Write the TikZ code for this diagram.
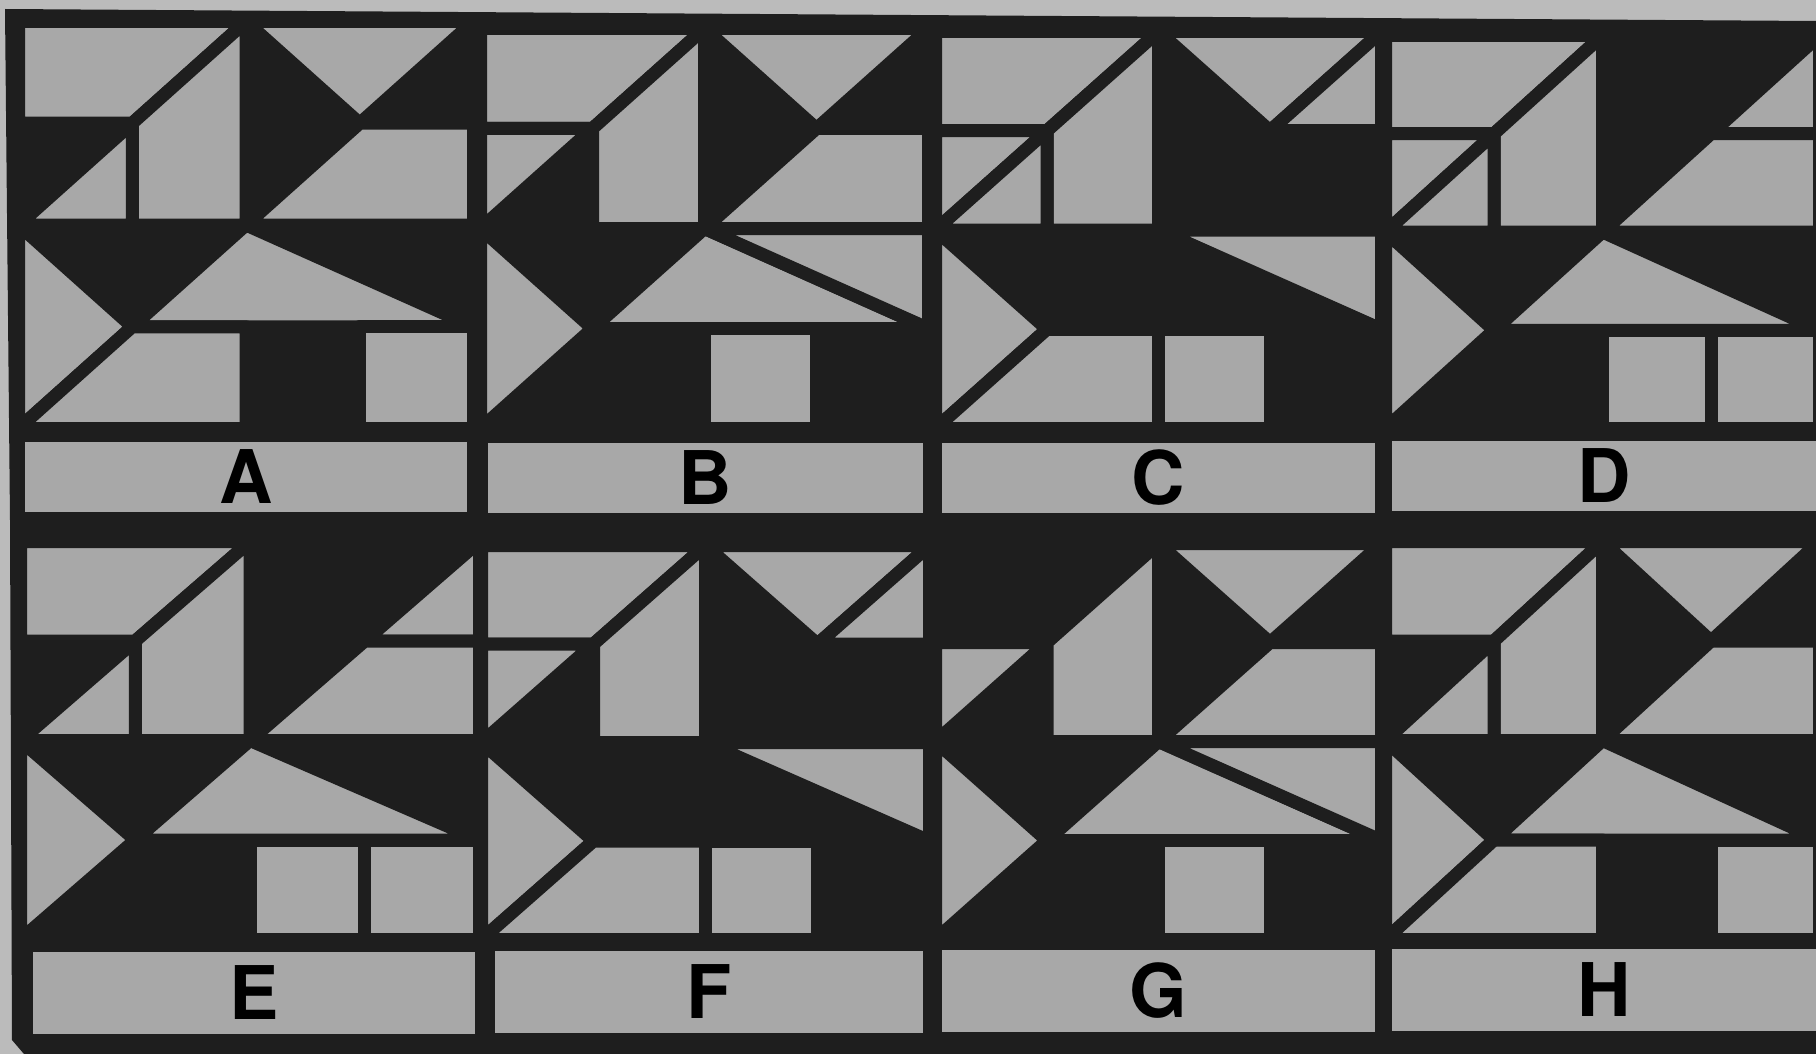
\documentclass[tikz,border=0pt]{standalone}
\usepackage{fontspec}
\setsansfont{TeX Gyre Heros}
\usepackage{xcolor}
\usepackage{tikz}
\definecolor{paper}{HTML}{BBBBBB}
\definecolor{tile}{HTML}{A8A8A8}
\definecolor{ink}{HTML}{1E1E1E}

\begin{document}
\begin{tikzpicture}[
    x=0.5pt, y=-0.5pt,
    piece/.style={fill=tile, draw=ink, line width=6.5pt, line join=round},
    labbox/.style={fill=tile, inner sep=0pt, minimum width=#1,
                   font=\sffamily\bfseries\fontsize{37}{37}\selectfont},
    toplab/.style={labbox=#1, minimum height=35pt},
    botlab/.style={labbox=#1, minimum height=41pt},
    pc-cap/.style={insert path={(0,0) -- (2,0) -- (1,1) -- (0,1) -- cycle}},
    pc-wedge/.style={insert path={(2,0) -- (1,1) -- (1,2) -- (2,2) -- cycle}},
    pc-nookhi/.style={insert path={(0,1) -- (1,1) -- (0,2) -- cycle}},
    pc-nooklo/.style={insert path={(1,1) -- (1,2) -- (0,2) -- cycle}},
    pc-hat/.style={insert path={(2,0) -- (4,0) -- (3,1) -- cycle}},
    pc-peak/.style={insert path={(4,0) -- (4,1) -- (3,1) -- cycle}},
    pc-ramp/.style={insert path={(3,1) -- (4,1) -- (4,2) -- (2,2) -- cycle}},
    pc-dart/.style={insert path={(0,2) -- (1,3) -- (0,4) -- cycle}},
    pc-roof/.style={insert path={(1,3) -- (2,2) -- (4,3) -- cycle}},
    pc-flag/.style={insert path={(2,2) -- (4,2) -- (4,3) -- cycle}},
    pc-sole/.style={insert path={(1,3) -- (2,3) -- (2,4) -- (0,4) -- cycle}},
    pc-boxl/.style={insert path={(2,3) rectangle (3,4)}},
    pc-boxr/.style={insert path={(3,3) rectangle (4,4)}}
  ]
  \useasboundingbox (0,0) rectangle (1816,1054);
  \fill[paper] (0,0) rectangle (1816,1054);
  \fill[ink] (5,9) -- (1816,21) -- (1816,1054) -- (24,1054) -- (12,1040) -- (10,520) -- cycle;

  \begin{scope}[shift={(9.25pt,-10.75pt)}, x=56.875pt, y=-50.875pt]
    \foreach \pc in {pc-cap,pc-wedge,pc-nooklo,pc-hat,pc-ramp,pc-dart,pc-roof,pc-sole,pc-boxr}
      \path[piece, \pc];
  \end{scope}
  \begin{scope}[shift={(240.25pt,-14.25pt)}, x=56pt, y=-50pt]
    \foreach \pc in {pc-cap,pc-wedge,pc-nookhi,pc-hat,pc-ramp,pc-dart,pc-roof,pc-flag,pc-boxl}
      \path[piece, \pc];
  \end{scope}
  \begin{scope}[shift={(467.75pt,-15.75pt)}, x=55.75pt, y=-49.625pt]
    \foreach \pc in {pc-cap,pc-wedge,pc-nookhi,pc-nooklo,pc-hat,pc-peak,pc-dart,pc-flag,pc-sole,pc-boxl}
      \path[piece, \pc];
  \end{scope}
  \begin{scope}[shift={(692.75pt,-17.75pt)}, x=54.25pt, y=-49.125pt]
    \foreach \pc in {pc-cap,pc-wedge,pc-nookhi,pc-nooklo,pc-peak,pc-ramp,pc-dart,pc-roof,pc-boxl,pc-boxr}
      \path[piece, \pc];
  \end{scope}
  \begin{scope}[shift={(10.25pt,-270.75pt)}, x=57.375pt, y=-49.75pt]
    \foreach \pc in {pc-cap,pc-wedge,pc-nooklo,pc-peak,pc-ramp,pc-dart,pc-roof,pc-boxl,pc-boxr}
      \path[piece, \pc];
  \end{scope}
  \begin{scope}[shift={(240.75pt,-272.75pt)}, x=56pt, y=-49.25pt]
    \foreach \pc in {pc-cap,pc-wedge,pc-nookhi,pc-hat,pc-peak,pc-dart,pc-flag,pc-sole,pc-boxl}
      \path[piece, \pc];
  \end{scope}
  \begin{scope}[shift={(467.75pt,-271.75pt)}, x=55.75pt, y=-49.5pt]
    \foreach \pc in {pc-wedge,pc-nookhi,pc-hat,pc-ramp,pc-dart,pc-roof,pc-flag,pc-boxl}
      \path[piece, \pc];
  \end{scope}
  \begin{scope}[shift={(692.75pt,-270.75pt)}, x=54.25pt, y=-49.75pt]
    \foreach \pc in {pc-cap,pc-wedge,pc-nooklo,pc-hat,pc-ramp,pc-dart,pc-roof,pc-sole,pc-boxr}
      \path[piece, \pc];
  \end{scope}

  \node[toplab=221pt]   (labA) at (246,477)    {A};
  \node[toplab=217.5pt] (labB) at (705,477.5)  {B};
  \node[toplab=216.5pt] (labC) at (1158.5,477.5) {C};
  \node[toplab=212pt]   (labD) at (1604,476)   {D};
  \node[botlab=221pt]   (labE) at (254,993)    {E};
  \node[botlab=214pt]   (labF) at (709,992)    {F};
  \node[botlab=216.5pt] (labG) at (1158.5,991) {G};
  \node[botlab=212pt]   (labH) at (1604,990)   {H};
\end{tikzpicture}
\end{document}
